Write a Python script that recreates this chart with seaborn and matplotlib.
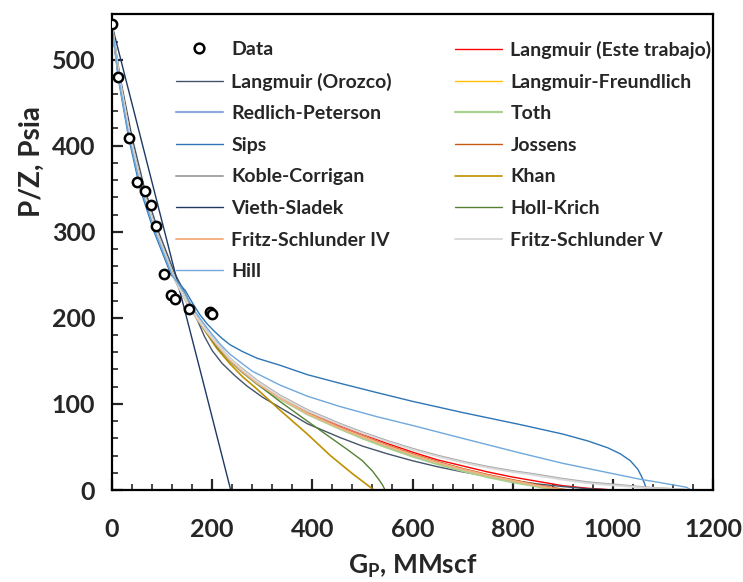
import matplotlib
matplotlib.use("Agg")
import matplotlib.pyplot as plt
import seaborn as sns
from matplotlib.ticker import MultipleLocator
from matplotlib.lines import Line2D

sns.set_theme(style="white")
plt.rcParams['font.family'] = ['Lato', 'DejaVu Sans']
plt.rcParams['font.weight'] = 'bold'
plt.rcParams['mathtext.fontset'] = 'custom'
plt.rcParams['mathtext.rm'] = 'Lato:bold'
plt.rcParams['mathtext.it'] = 'Lato:bold'
plt.rcParams['mathtext.bf'] = 'Lato:bold'

# ---- data ----
data_gp = [0, 12, 34, 49, 66, 77, 88, 104, 118, 125, 154, 196, 200]
data_pz = [541, 480, 409, 358, 347, 331, 307, 251, 226, 222, 210, 207, 205]

# curves: Gp (MMscf) vs P/Z (psia)
langmuir_este_x = [0, 14, 36, 60, 88, 120, 135, 150, 170, 190, 210, 235, 260, 290, 335, 390, 455, 500, 550, 600, 650, 700, 750, 800, 850, 900, 950, 1000]
langmuir_este_y = [540, 480, 410, 350, 300, 252, 234, 218, 200, 184, 170, 153, 140, 126, 109, 92, 75, 65, 54, 44, 35, 28, 21, 15, 10, 5, 2, 0]

langmuir_orozco_x = [0, 16, 40, 65, 93, 125, 150, 170, 185, 200, 220, 245, 269, 300, 335, 390, 455, 500, 550, 600, 650, 700, 750, 800, 850, 900, 950, 1000]
langmuir_orozco_y = [540, 480, 410, 350, 300, 252, 224, 198, 178, 162, 147, 133, 121, 108, 96, 77, 61, 51, 42, 34, 27, 21, 16, 11, 7, 4, 1.5, 0]

lf_x = [0, 14, 36, 60, 88, 120, 135, 150, 170, 190, 210, 235, 260, 290, 335, 390, 455, 500, 550, 600, 650, 700, 750, 800, 840, 870, 890]
lf_y = [540, 480, 410, 350, 300, 252, 234, 218, 199, 183, 168, 151, 138, 124, 107, 89, 72, 61, 50, 40, 31, 23, 16, 10, 6, 2.5, 0]

rp_x = [0, 14, 36, 60, 88, 120, 135, 150, 170, 190, 210, 235, 260, 290, 335, 390, 455, 500, 550, 600, 650, 700, 750, 800, 840, 870, 885]
rp_y = [540, 480, 410, 350, 300, 252, 234, 218, 199, 183, 168, 151, 138, 124, 107, 89, 72, 62, 51, 41, 32, 24, 17, 11, 6, 2.5, 0]

toth_x = [0, 14, 36, 60, 88, 120, 135, 150, 170, 190, 210, 235, 260, 290, 335, 390, 455, 500, 550, 600, 650, 700, 750, 800, 840, 865, 880]
toth_y = [540, 480, 410, 350, 300, 252, 234, 218, 199, 183, 168, 150, 137, 123, 106, 88, 71, 60, 49, 39, 30, 22, 15, 9, 5, 2, 0]

sips_x = [0, 12, 33, 56, 84, 118, 146, 160, 175, 190, 205, 220, 235, 260, 290, 335, 390, 455, 530, 600, 700, 815, 900, 950, 990, 1015, 1035, 1050, 1058, 1063, 1066, 1067]
sips_y = [540, 480, 410, 350, 300, 250, 232, 218, 204, 193, 184, 176, 169, 161, 153, 145, 134, 124, 113, 103, 90, 76, 65, 57, 49, 42, 34, 24, 15, 8, 3, 0]

jossens_x = [0, 14, 36, 60, 88, 120, 135, 150, 170, 190, 210, 235, 260, 290, 335, 390, 455, 500, 550, 600, 650, 700, 750, 800, 850, 885, 910]
jossens_y = [540, 480, 410, 350, 300, 252, 234, 218, 199, 183, 169, 152, 139, 125, 108, 90, 73, 63, 52, 42, 33, 25, 18, 12, 6, 2.5, 0]

koble_x = [0, 14, 36, 60, 88, 120, 135, 150, 170, 190, 210, 235, 260, 290, 335, 390, 455, 500, 550, 600, 650, 700, 750, 800, 836, 900, 950, 1010, 1068, 1120, 1150]
koble_y = [540, 480, 410, 350, 300, 252, 234, 218, 200, 184, 170, 153, 141, 127, 110, 93, 77, 67, 57, 48, 40, 33, 27, 22, 19, 13, 9, 6, 3, 1.2, 0]

khan_x = [0, 14, 36, 60, 88, 120, 135, 150, 170, 190, 210, 235, 260, 290, 335, 390, 436, 480, 523]
khan_y = [540, 480, 410, 350, 300, 252, 234, 218, 199, 181, 164, 147, 132, 117, 93, 65, 40, 19, 0]

vieth_x = [0, 60, 120, 180, 237]
vieth_y = [540, 403, 266, 130, 0]

holl_x = [0, 14, 36, 60, 88, 120, 135, 150, 170, 190, 210, 235, 260, 290, 335, 390, 436, 470, 500, 520, 533, 541, 545]
holl_y = [540, 480, 410, 350, 300, 252, 234, 218, 199, 182, 166, 150, 137, 123, 103, 80, 61, 47, 34, 22, 12, 5, 0]

fs4_x = [0, 14, 36, 60, 88, 120, 135, 150, 170, 190, 210, 235, 260, 290, 335, 390, 455, 500, 550, 600, 650, 700, 750, 800, 850, 880, 900]
fs4_y = [540, 480, 410, 350, 300, 252, 234, 218, 199, 183, 168, 151, 138, 124, 107, 89, 72, 62, 51, 41, 32, 24, 17, 11, 5, 2, 0]

fs5_x = [0, 14, 36, 60, 88, 120, 135, 150, 170, 190, 210, 235, 260, 290, 335, 390, 455, 500, 550, 600, 650, 700, 750, 800, 836, 900, 950, 1010, 1068, 1120, 1160]
fs5_y = [540, 480, 410, 350, 300, 252, 234, 218, 200, 184, 170, 153, 140, 126, 109, 92, 76, 66, 56, 47, 39, 32, 26, 21, 18, 12, 8, 5, 2.5, 1, 0]

hill_x = [0, 13, 34, 58, 86, 120, 146, 165, 190, 215, 235, 280, 335, 390, 455, 530, 600, 700, 815, 900, 950, 1000, 1050, 1100, 1130, 1148, 1155]
hill_y = [540, 480, 410, 350, 300, 250, 228, 208, 188, 170, 158, 138, 122, 109, 97, 85, 75, 60, 43, 31, 25, 19, 13, 8, 5, 3, 0]

series = [
    ("Langmuir (Este trabajo)", langmuir_este_x, langmuir_este_y, "#FF0000", 1.0),
    ("Langmuir (Orozco)", langmuir_orozco_x, langmuir_orozco_y, "#44546A", 1.0),
    ("Langmuir-Freundlich", lf_x, lf_y, "#FFC000", 1.0),
    ("Redlich-Peterson", rp_x, rp_y, "#8FAADC", 1.6),
    ("Toth", toth_x, toth_y, "#A9D18E", 1.6),
    ("Sips", sips_x, sips_y, "#2E75B6", 1.0),
    ("Jossens", jossens_x, jossens_y, "#C55A11", 1.0),
    ("Koble-Corrigan", koble_x, koble_y, "#A5A5A5", 1.4),
    ("Khan", khan_x, khan_y, "#BF9000", 1.2),
    ("Vieth-Sladek", vieth_x, vieth_y, "#1F3864", 1.0),
    ("Holl-Krich", holl_x, holl_y, "#548235", 1.0),
    ("Fritz-Schlunder IV", fs4_x, fs4_y, "#F4B183", 1.4),
    ("Fritz-Schlunder V", fs5_x, fs5_y, "#D9D9D9", 1.4),
    ("Hill", hill_x, hill_y, "#6FA8DC", 1.0),
]

fig = plt.figure(figsize=(7.43, 5.82), dpi=100)
ax = fig.add_axes([112/743, 92/582, 601/743, 476/582])

handles = {}
for name, xs, ys, col, lw in series:
    sns.lineplot(x=xs, y=ys, ax=ax, color=col, lw=lw, sort=False, estimator=None)
    handles[name] = Line2D([], [], color=col, lw=lw)

sns.scatterplot(x=data_gp, y=data_pz, ax=ax, marker="o", s=45,
                facecolor="white", edgecolor="black", linewidth=1.8, zorder=10)
handles["Data"] = Line2D([], [], marker="o", ls="", markersize=7,
                         markerfacecolor="white", markeredgecolor="black", markeredgewidth=1.8)

ax.set_xlim(0, 1200)
ax.set_ylim(0, 553)
ax.xaxis.set_major_locator(MultipleLocator(200))
ax.xaxis.set_minor_locator(MultipleLocator(40))
ax.yaxis.set_major_locator(MultipleLocator(100))
ax.yaxis.set_minor_locator(MultipleLocator(20))
ax.tick_params(which="both", direction="in", top=False, right=False, left=True, bottom=True)
ax.tick_params(which="major", length=8, width=1.6, labelsize=18)
ax.tick_params(axis="x", which="major", pad=20)
ax.tick_params(axis="y", which="major", pad=12)
ax.tick_params(which="minor", length=4, width=1.2)
for lab in ax.get_xticklabels() + ax.get_yticklabels():
    lab.set_fontweight("bold")
for sp in ax.spines.values():
    sp.set_linewidth(1.6)
    sp.set_color("black")

ax.set_xlabel("G$_{\\mathrm{P}}$, MMscf", fontsize=19, fontweight="bold", labelpad=9)
ax.set_ylabel("P/Z, Psia", fontsize=20, fontweight="bold")
ax.yaxis.set_label_coords(-0.112, 0.69)

left_order = ["Data", "Langmuir (Orozco)", "Redlich-Peterson", "Sips", "Koble-Corrigan",
              "Vieth-Sladek", "Fritz-Schlunder IV", "Hill"]
right_order = ["Langmuir (Este trabajo)", "Langmuir-Freundlich", "Toth", "Jossens", "Khan",
               "Holl-Krich", "Fritz-Schlunder V"]

common = dict(loc="upper left", frameon=False, handlelength=2.4, handletextpad=0.45,
              labelspacing=0.75, borderpad=0, borderaxespad=0,
              prop={"weight": "bold", "size": 14})
leg1 = ax.legend([handles[n] for n in left_order], left_order,
                 bbox_to_anchor=((176-112)/601, (490-41)/476), **common)
ax.add_artist(leg1)
leg2 = ax.legend([handles[n] for n in right_order], right_order,
                 bbox_to_anchor=((455-112)/601, (490-41)/476), **common)

fig.savefig("out.png", dpi=100)
